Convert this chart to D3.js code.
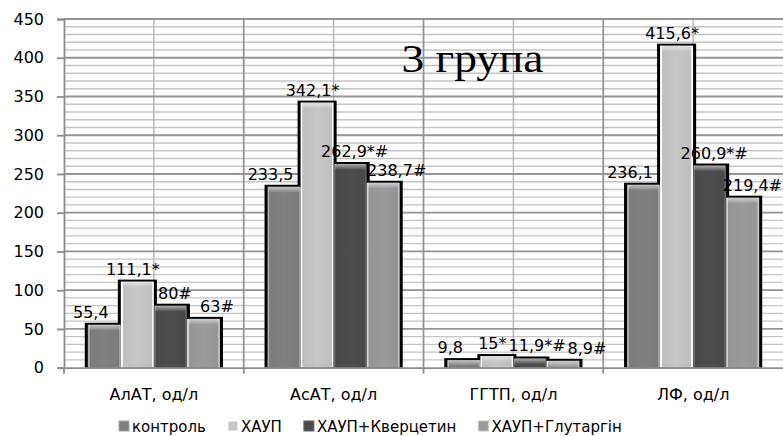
<!DOCTYPE html>
<html>
<head>
<meta charset="utf-8">
<script src="https://cdn.jsdelivr.net/npm/d3@7"></script>
<style>
  html, body { margin: 0; padding: 0; background: #fff; }
  svg { display: block; }
  text { font-family: "DejaVu Sans", Verdana, sans-serif; fill: #000; }
</style>
</head>
<body>
<svg id="chart" width="783" height="436"></svg>
<script>
// Biochemical markers, group 3
const categories = ["АлАТ, од/л", "АсАТ, од/л", "ГГТП, од/л", "ЛФ, од/л"];
const seriesNames = ["контроль", "ХАУП", "ХАУП+Кверцетин", "ХАУП+Глутаргін"];
const controlValues   = [55.4, 233.5, 9.8, 236.1];
const hcupValues      = [111.1, 342.1, 15, 415.6];
const quercetinValues = [80, 262.9, 11.9, 260.9];
const glutarginValues = [63, 238.7, 8.9, 219.4];
const controlMarks    = ["", "", "", ""];
const hcupMarks       = ["*", "*", "*", "*"];
const quercetinMarks  = ["#", "*#", "*#", "*#"];
const glutarginMarks  = ["#", "#", "#", "#"];
const yTicks = [0, 50, 100, 150, 200, 250, 300, 350, 400, 450];
const titleText = "3 група";

const seriesColors = ["#808080", "#c6c6c6", "#4c4c4c", "#9a9a9a"];

const seriesValues = [controlValues, hcupValues, quercetinValues, glutarginValues];
const seriesMarks = [controlMarks, hcupMarks, quercetinMarks, glutarginMarks];

const fmt = v => String(v).replace(".", ",");

const rows = [];
categories.forEach((c, ci) => {
  seriesNames.forEach((s, si) => {
    rows.push({ cat: c, ci, series: s, si, value: seriesValues[si][ci],
                label: fmt(seriesValues[si][ci]) + seriesMarks[si][ci] });
  });
});

const svg = d3.select("#chart");
const plotLeft = 64, plotRight = 783, plotTop = 19, plotBottom = 367.7;

const x0 = d3.scaleBand().domain(categories).range([plotLeft, plotRight]).padding(0);
const x1 = d3.scaleBand().domain(seriesNames).range([0, x0.bandwidth()])
  .paddingInner(0).paddingOuter(0.72);
const y = d3.scaleLinear().domain([0, 450]).range([plotBottom, plotTop]);

// bevel gradients for bars
const defs = svg.append("defs");
seriesColors.forEach((col, i) => {
  const c = d3.color(col);
  const g = defs.append("linearGradient").attr("id", "hg" + i)
    .attr("x1", 0).attr("x2", 1).attr("y1", 0).attr("y2", 0);
  g.append("stop").attr("offset", 0).attr("stop-color", c.brighter(0.9));
  g.append("stop").attr("offset", 0.05).attr("stop-color", c.brighter(0.9));
  g.append("stop").attr("offset", 0.06).attr("stop-color", c.darker(0.1));
  g.append("stop").attr("offset", 0.5).attr("stop-color", c);
  g.append("stop").attr("offset", 0.94).attr("stop-color", c.darker(0.1));
  g.append("stop").attr("offset", 0.95).attr("stop-color", c.brighter(0.6));
  g.append("stop").attr("offset", 1).attr("stop-color", c.brighter(0.6));
});
const tg = defs.append("linearGradient").attr("id", "topBevel")
  .attr("x1", 0).attr("x2", 0).attr("y1", 0).attr("y2", 1);
tg.append("stop").attr("offset", 0).attr("stop-color", "#fff").attr("stop-opacity", 0.55);
tg.append("stop").attr("offset", 1).attr("stop-color", "#fff").attr("stop-opacity", 0);

// minor horizontal grid
const grid = svg.append("g");
grid.selectAll("line.hminor")
  .data(d3.range(0, 451, 10).filter(v => v % 50 !== 0))
  .join("line").attr("class", "hminor")
  .attr("x1", plotLeft).attr("x2", plotRight)
  .attr("y1", d => y(d)).attr("y2", d => y(d))
  .attr("stroke", "#c4c4c4").attr("stroke-width", 1.3);

// minor vertical grid (category centres)
grid.selectAll("line.vminor").data(categories).join("line").attr("class", "vminor")
  .attr("x1", d => x0(d) + x0.bandwidth() / 2).attr("x2", d => x0(d) + x0.bandwidth() / 2)
  .attr("y1", plotTop).attr("y2", plotBottom)
  .attr("stroke", "#b8b8b8").attr("stroke-width", 1.5);

// major horizontal grid
grid.selectAll("line.hmajor").data(yTicks.filter(v => v > 0)).join("line").attr("class", "hmajor")
  .attr("x1", plotLeft).attr("x2", plotRight)
  .attr("y1", d => y(d)).attr("y2", d => y(d))
  .attr("stroke", "#959595").attr("stroke-width", 1.8);

// major vertical grid (category boundaries)
grid.selectAll("line.vmajor").data(categories.slice(1)).join("line").attr("class", "vmajor")
  .attr("x1", d => x0(d)).attr("x2", d => x0(d))
  .attr("y1", plotTop).attr("y2", plotBottom)
  .attr("stroke", "#959595").attr("stroke-width", 1.8);

// title
svg.append("text")
  .attr("x", 401.5).attr("y", 71.5)
  .attr("textLength", 142).attr("lengthAdjust", "spacingAndGlyphs")
  .style("font-family", "'Liberation Serif', 'Times New Roman', serif")
  .style("font-size", "39px")
  .text(titleText);

// black outlines behind the bars
const bars = svg.append("g");
bars.selectAll("rect.shadow").data(rows).join("rect").attr("class", "shadow")
  .attr("x", d => x0(d.cat) + x1(d.series) - 3)
  .attr("y", d => y(d.value) - 2)
  .attr("width", x1.bandwidth() + 6)
  .attr("height", d => plotBottom - y(d.value) + 2)
  .attr("fill", "#000");

bars.selectAll("rect.bar").data(rows).join("rect").attr("class", "bar")
  .attr("x", d => x0(d.cat) + x1(d.series))
  .attr("y", d => y(d.value))
  .attr("width", x1.bandwidth())
  .attr("height", d => plotBottom - y(d.value))
  .attr("fill", d => `url(#hg${d.si})`);

bars.selectAll("rect.bevel").data(rows).join("rect").attr("class", "bevel")
  .attr("x", d => x0(d.cat) + x1(d.series) + 1)
  .attr("y", d => y(d.value))
  .attr("width", x1.bandwidth() - 2)
  .attr("height", d => Math.min(6, plotBottom - y(d.value)))
  .attr("fill", "url(#topBevel)");

// y axis
const yAxis = svg.append("g").attr("transform", `translate(${plotLeft},0)`)
  .call(d3.axisLeft(y).tickValues(yTicks).tickSize(7).tickPadding(13));
yAxis.select(".domain").attr("stroke", "#8c8c8c").attr("stroke-width", 1.8);
yAxis.selectAll(".tick line").attr("stroke", "#8c8c8c").attr("stroke-width", 1.8);
yAxis.selectAll(".tick text").style("font-size", "16px")
  .style("font-family", "'DejaVu Sans', sans-serif").attr("fill", "#000");

// x axis
const xAxis = svg.append("g").attr("transform", `translate(0,${plotBottom})`)
  .call(d3.axisBottom(x0).tickSize(0).tickPadding(21));
xAxis.select(".domain").attr("stroke", "#8c8c8c").attr("stroke-width", 1.8);
xAxis.selectAll(".tick text").style("font-size", "16px")
  .style("font-family", "'DejaVu Sans', sans-serif").attr("fill", "#000");
xAxis.selectAll("line.sep").data(categories).join("line").attr("class", "sep")
  .attr("x1", d => x0(d)).attr("x2", d => x0(d))
  .attr("y1", 0).attr("y2", 6)
  .attr("stroke", "#8c8c8c").attr("stroke-width", 1.8);

// value labels, fanned out a little from the bar centres
const labelLayer = svg.append("g");
const labelSpread = 9;
const labels = labelLayer.selectAll("text.val").data(rows).join("text").attr("class", "val")
  .attr("y", d => y(d.value) - 7)
  .style("font-size", "16px")
  .text(d => d.label);

labels.each(function (d) {
  d.w = this.getComputedTextLength();
  d.lx = x0(d.cat) + x1(d.series) + x1.bandwidth() / 2 + (d.si - 1.5) * labelSpread - d.w / 2;
});
// push apart neighbouring labels that sit at similar heights
categories.forEach((c, ci) => {
  const grp = rows.filter(r => r.ci === ci);
  for (let i = 1; i < grp.length; i++) {
    const a = grp[i - 1], b = grp[i];
    if (Math.abs(y(a.value) - y(b.value)) < 14 && b.lx < a.lx + a.w + 2) {
      b.lx = a.lx + a.w + 2;
    }
  }
  grp.forEach(r => { r.lx = Math.min(r.lx, plotRight - 1 - r.w); });
});
labels.attr("x", d => d.lx);

// legend
const legend = svg.append("g");
let lx = 119;
seriesNames.forEach((name, i) => {
  const c = d3.color(seriesColors[i]);
  legend.append("rect").attr("x", lx).attr("y", 421).attr("width", 10).attr("height", 10)
    .attr("fill", seriesColors[i]).attr("stroke", c.brighter(0.7)).attr("stroke-width", 1);
  const t = legend.append("text").attr("x", lx + 13).attr("y", 431.5)
    .style("font-size", "15px").text(name);
  lx += 13 + t.node().getComputedTextLength() + 22;
});
</script>
</body>
</html>
